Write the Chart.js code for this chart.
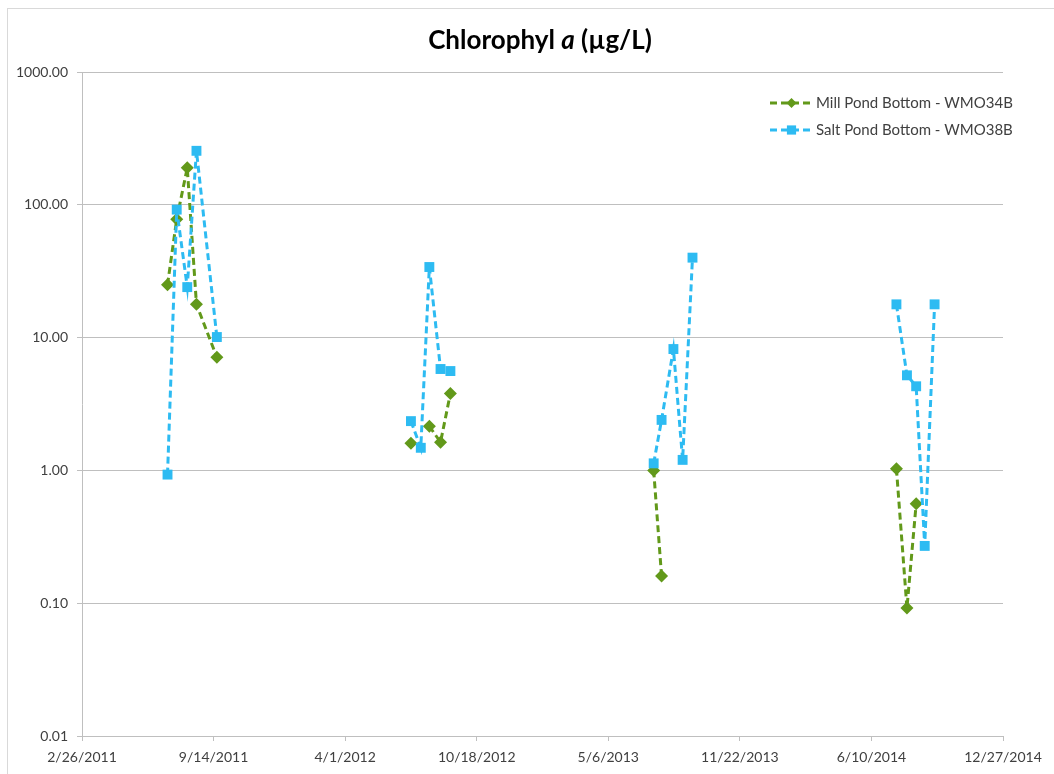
<!DOCTYPE html>
<html>
<head>
<meta charset="utf-8">
<script src="https://cdn.jsdelivr.net/npm/chart.js@4.4.1/dist/chart.umd.min.js"></script>
<style>
    html, body { margin: 0; padding: 0; background: #fff; }
    #wrap { width: 1054px; height: 774px; position: relative; }
</style>
</head>
<body>
<div id="wrap"><canvas id="chlChart" width="1054" height="774"></canvas></div>
<script>
// sampling dates (both stations share the same sampling runs)
const sampleDates = [
    '2011-07-06', '2011-07-20', '2011-08-05', '2011-08-19', '2011-09-19',
    '2012-07-10', '2012-07-25', '2012-08-07', '2012-08-24', '2012-09-08',
    '2013-07-14', '2013-07-26', '2013-08-13', '2013-08-27', '2013-09-11',
    '2014-07-18', '2014-08-03', '2014-08-17', '2014-08-30', '2014-09-14'
];
const millPond = [25, 78, 190, 17.8, 7.1, 1.6, null, 2.15, 1.63, 3.8, 1.0, 0.16, null, null, null, 1.03, 0.092, 0.56, null, null];
const saltPond = [0.93, 92, 24, 255, 10.1, 2.35, 1.48, 34, 5.8, 5.6, 1.13, 2.4, 8.2, 1.2, 40, 17.8, 5.2, 4.3, 0.27, 17.8];

const seriesLabels = ['Mill Pond Bottom - WMO34B', 'Salt Pond Bottom - WMO38B'];
const yTicks = [0.01, 0.1, 1, 10, 100, 1000];
const xTickDates = ['2011-02-26', '2011-09-14', '2012-04-01', '2012-10-18', '2013-05-06', '2013-11-22', '2014-06-10', '2014-12-27'];

const millColor = '#62991a';
const saltColor = '#2dbbf2';
const textColor = '#404040';
const FONT = 'Lato, "Open Sans", sans-serif';

// excel style day serial
function toSerial(iso) {
    const p = iso.split('-').map(Number);
    return (Date.UTC(p[0], p[1] - 1, p[2]) - Date.UTC(1899, 11, 30)) / 86400000;
}
function fromSerial(s) {
    const d = new Date(Date.UTC(1899, 11, 30) + Math.round(s) * 86400000);
    return (d.getUTCMonth() + 1) + '/' + d.getUTCDate() + '/' + d.getUTCFullYear();
}

function points(values) {
    return sampleDates.map((d, i) => ({ x: toSerial(d), y: values[i] }));
}

// hide the connecting segment between two sampling seasons
function seasonSegment(color) {
    return {
        borderColor: ctx => (ctx.p1.parsed.x - ctx.p0.parsed.x > 100 ? 'rgba(0,0,0,0)' : color)
    };
}

function drawMarker(ctx, style, x, y, r, color) {
    ctx.fillStyle = color;
    ctx.beginPath();
    if (style === 'rectRot') {
        ctx.moveTo(x, y - r);
        ctx.lineTo(x + r, y);
        ctx.lineTo(x, y + r);
        ctx.lineTo(x - r, y);
    } else {
        const h = r * Math.SQRT1_2;
        ctx.rect(x - h, y - h, 2 * h, 2 * h);
    }
    ctx.closePath();
    ctx.fill();
}

const decorPlugin = {
    id: 'decor',
    afterDraw(chart) {
        const ctx = chart.ctx;
        ctx.save();

        // outer chart frame
        ctx.strokeStyle = '#d9d9d9';
        ctx.lineWidth = 1;
        ctx.strokeRect(7.5, 8.5, 1100, 800);

        // title with italic "a"
        const parts = [
            { t: 'Chlorophyl ', f: 'bold 26px ' + FONT },
            { t: 'a', f: 'italic bold 26px ' + FONT },
            { t: ' (\u00b5g/L)', f: 'bold 26px ' + FONT }
        ];
        let total = 0;
        parts.forEach(p => { ctx.font = p.f; p.w = ctx.measureText(p.t).width; total += p.w; });
        let tx = 540 - total / 2;
        ctx.fillStyle = '#000';
        ctx.textBaseline = 'alphabetic';
        ctx.textAlign = 'left';
        parts.forEach(p => { ctx.font = p.f; ctx.fillText(p.t, tx, 49); tx += p.w; });

        // legend inside plot, top right
        const rows = [103, 130];
        chart.data.datasets.forEach((ds, i) => {
            const y = rows[i];
            ctx.strokeStyle = ds.borderColor;
            ctx.lineWidth = ds.borderWidth;
            ctx.setLineDash(ds.borderDash);
            ctx.beginPath();
            ctx.moveTo(770, y);
            ctx.lineTo(813, y);
            ctx.stroke();
            ctx.setLineDash([]);
            drawMarker(ctx, ds.pointStyle, 791.5, y, ds.pointStyle === 'rectRot' ? 5 : 6.5, ds.borderColor);
            ctx.font = '15px ' + FONT;
            ctx.fillStyle = textColor;
            ctx.textBaseline = 'middle';
            ctx.fillText(ds.label, 816, y);
        });
        ctx.restore();
    }
};

new Chart(document.getElementById('chlChart'), {
    type: 'line',
    data: {
        datasets: [{
            label: seriesLabels[0],
            data: points(millPond),
            borderColor: millColor,
            backgroundColor: millColor,
            borderWidth: 3,
            borderDash: [7, 4],
            pointStyle: 'rectRot',
            pointRadius: 6.5,
            pointBorderWidth: 0,
            spanGaps: false,
            segment: seasonSegment(millColor),
            order: 2
        }, {
            label: seriesLabels[1],
            data: points(saltPond),
            borderColor: saltColor,
            backgroundColor: saltColor,
            borderWidth: 3,
            borderDash: [7, 4],
            pointStyle: 'rect',
            pointRadius: 7,
            pointBorderWidth: 0,
            spanGaps: false,
            segment: seasonSegment(saltColor),
            order: 1
        }]
    },
    options: {
        responsive: false,
        animation: false,
        layout: { padding: { top: 72, right: 51, left: 0, bottom: 0 } },
        plugins: {
            legend: { display: false },
            title: { display: false },
            tooltip: { enabled: false }
        },
        scales: {
            x: {
                type: 'linear',
                min: toSerial(xTickDates[0]),
                max: toSerial(xTickDates[xTickDates.length - 1]),
                afterBuildTicks: scale => { scale.ticks = xTickDates.map(d => ({ value: toSerial(d) })); },
                afterFit: scale => { scale.height = 38; },
                grid: { drawOnChartArea: false, color: '#bfbfbf', tickLength: 5 },
                border: { color: '#bfbfbf' },
                ticks: {
                    color: textColor,
                    font: { family: FONT, size: 14 },
                    maxRotation: 0,
                    autoSkip: false,
                    padding: 8,
                    callback: v => fromSerial(v)
                }
            },
            y: {
                type: 'logarithmic',
                min: 0.01,
                max: 1000,
                afterBuildTicks: scale => { scale.ticks = yTicks.map(v => ({ value: v })); },
                afterFit: scale => { scale.width = 82; },
                grid: { color: '#bfbfbf', tickLength: 5 },
                border: { color: '#bfbfbf' },
                ticks: {
                    color: textColor,
                    font: { family: FONT, size: 14 },
                    padding: 9,
                    callback: v => Number(v).toFixed(2)
                }
            }
        }
    },
    plugins: [decorPlugin]
});
</script>
</body>
</html>
